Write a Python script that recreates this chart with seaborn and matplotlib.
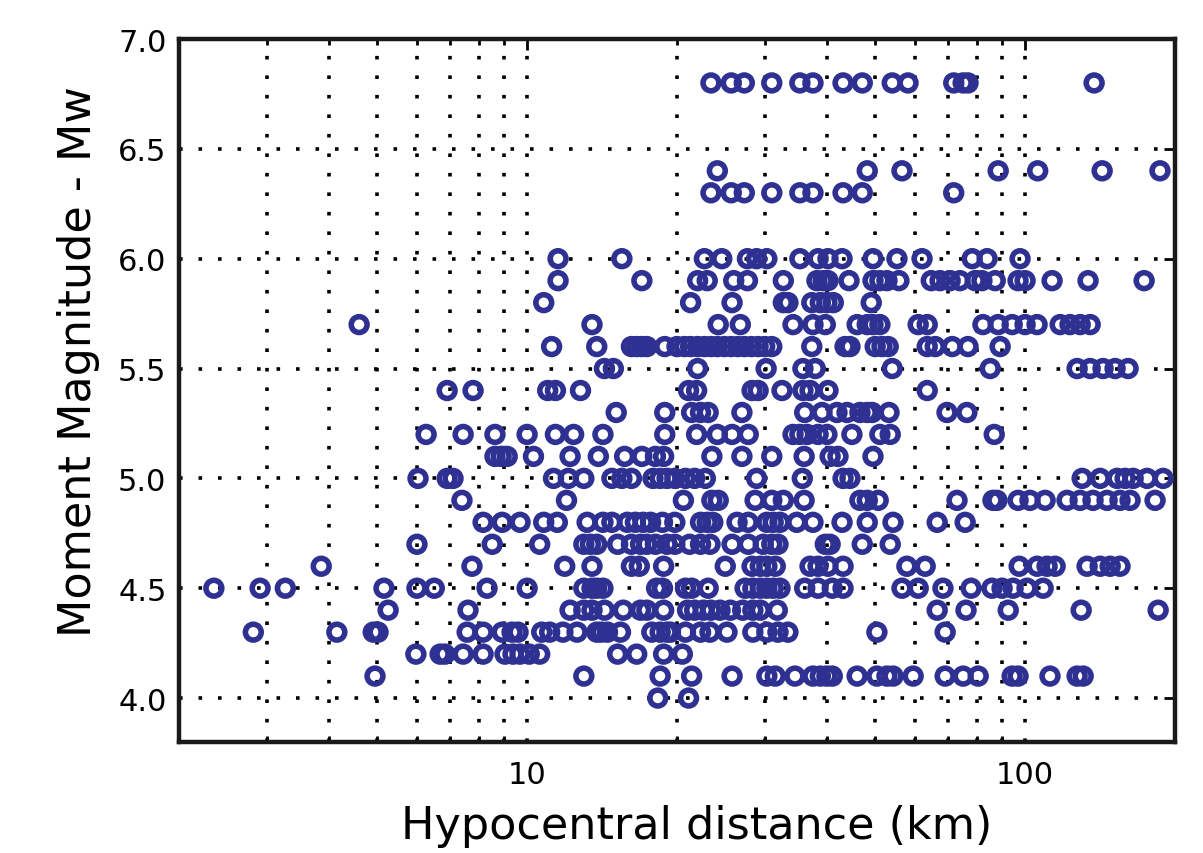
import numpy as np
import pandas as pd
import matplotlib
matplotlib.use("Agg")
import matplotlib.pyplot as plt
import seaborn as sns
from matplotlib.ticker import FixedLocator, FixedFormatter, NullFormatter

# ---- data: hypocentral distance (km) for each moment magnitude level ----
d_68 = [23.4, 25.7, 27.3, 31.0, 35.3, 37.5, 43.1, 47.1, 54.1, 58.2, 71.9, 75.1, 76.8, 137.6]
d_64 = [24.1, 48.2, 56.6, 88.3, 106, 142.8, 186.6]
d_63 = [23.4, 25.7, 27.3, 31.0, 35.3, 37.5, 43.1, 47.1, 71.9]
d_60 = [11.54, 15.5, 22.7, 24.6, 27.7, 28.9, 30.3, 35.3, 38.4, 40.2, 42.9, 49.5, 55.3, 62.1,
        78.3, 83.9, 97.7]
d_59 = [11.54, 17.0, 22.0, 23.0, 26.0, 27.7, 32.7, 38.2, 39.3, 40.2, 44.3, 49.5, 51.1, 52.8,
        55.8, 64.8, 67.5, 70.7, 74.0, 79.4, 81.9, 87.1, 96.8, 100, 113.3, 133.8, 173.4]
d_58 = [10.8, 21.3, 25.8, 32.7, 33.4, 37.3, 38.8, 40.0, 41.2, 49.1]
d_57 = [4.60, 13.5, 24.2, 26.8, 34.2, 37.5, 39.7, 46.0, 48.2, 49.5, 51.1, 61.0, 63.6, 82.3,
        88.3, 94.2, 100, 105.7, 117.6, 123.1, 129.0, 135.1]
d_56 = [11.2, 13.8, 16.2, 16.6, 17.0, 17.4, 18.9, 20.0, 20.7, 21.3, 22.0, 22.7, 23.4, 24.1,
        24.9, 25.7, 26.5, 27.3, 28.2, 29.1, 30.0, 31.0, 37.3, 43.5, 44.5, 50.0, 51.6, 53.1,
        63.6, 66.0, 71.4, 76.8, 89.1]
d_55 = [14.3, 14.9, 22.0, 30.2, 35.8, 37.9, 54.1, 85.1, 127.2, 135.1, 143.4, 151.6, 161.0]
d_54 = [6.91, 7.79, 11.0, 11.4, 12.8, 21.1, 21.9, 28.3, 29.1, 32.5, 35.8, 37.0, 40.2, 63.6]
d_53 = [15.1, 18.9, 21.4, 22.3, 23.1, 27.0, 36.1, 39.1, 41.9, 43.9, 46.6, 48.2, 49.3, 53.3,
        69.7, 76.4]
d_52 = [6.27, 7.44, 8.62, 10.0, 11.4, 12.4, 14.2, 18.9, 21.9, 24.1, 25.8, 27.8, 34.2, 35.3,
        36.5, 38.4, 40.0, 44.9, 51.1, 53.6, 86.7]
d_51 = [8.62, 8.87, 9.12, 10.3, 12.2, 13.9, 15.7, 17.0, 18.1, 18.8, 23.5, 27.0, 31.0, 36.0,
        40.6, 42.1, 49.5]
d_50 = [6.04, 6.91, 7.10, 11.3, 12.1, 13.0, 14.8, 15.5, 16.2, 17.9, 18.5, 19.1, 19.8, 20.8,
        21.7, 22.8, 28.9, 35.7, 43.1, 44.5, 130.2, 141.5, 153.0, 158.8, 164.8, 175.8, 189.3]
d_49 = [7.40, 12.0, 20.6, 23.5, 24.2, 28.7, 31.0, 32.7, 36.0, 46.6, 48.2, 50.7, 73.0, 86.2,
        87.8, 96.8, 102.3, 109.7, 121.4, 129.0, 136.9, 146.1, 155.1, 162.5, 182.4]
d_48 = [8.16, 8.91, 9.68, 10.8, 11.5, 13.2, 14.2, 14.8, 15.9, 16.5, 17.1, 17.7, 18.7, 19.8,
        22.3, 23.0, 23.6, 26.4, 27.8, 30.3, 31.2, 32.2, 34.8, 37.5, 42.9, 48.2, 54.3, 66.6, 75.8]
d_47 = [6.01, 8.51, 10.6, 13.0, 13.4, 13.8, 15.2, 16.2, 16.9, 17.4, 18.1, 19.1, 19.8, 21.2,
        22.3, 23.3, 25.8, 27.8, 29.8, 31.0, 31.9, 39.7, 40.6, 47.1, 53.6]
d_46 = [3.86, 7.75, 11.9, 13.5, 16.2, 16.8, 18.8, 25.0, 28.3, 29.4, 30.3, 31.5, 37.0, 38.4,
        40.2, 43.1, 57.9, 63.0, 97.3, 105.7, 110.7, 114.9, 133.2, 141.5, 148.2, 155.1]
d_45 = [2.35, 2.91, 3.27, 5.16, 6.01, 6.51, 8.31, 10.0, 13.0, 13.5, 13.8, 14.2, 18.2, 18.7,
        20.8, 21.4, 23.1, 27.4, 28.4, 29.4, 30.3, 31.2, 32.2, 36.1, 38.4, 41.0, 43.1, 56.6,
        61.0, 68.4, 77.9, 85.8, 89.9, 94.6, 100.9, 108.7]
d_44 = [5.26, 7.61, 12.2, 13.0, 13.5, 14.3, 15.6, 16.9, 17.4, 18.8, 21.0, 21.7, 22.6, 23.4,
        24.4, 25.6, 27.1, 28.4, 29.4, 31.8, 66.6, 76.1, 92.5, 129.6, 185.0]
d_43 = [2.82, 4.15, 4.91, 5.02, 7.58, 8.16, 8.91, 9.33, 9.59, 10.7, 11.1, 11.8, 12.6, 13.8,
        14.1, 14.5, 15.4, 17.8, 18.5, 19.1, 19.4, 20.8, 22.3, 23.3, 25.2, 28.4, 30.3, 31.9,
        33.4, 50.4, 69.1]
d_42 = [5.98, 6.69, 6.84, 7.44, 8.16, 9.03, 9.37, 9.68, 10.1, 10.6, 15.2, 16.6, 18.8, 20.5]
d_41 = [4.95, 13.0, 18.5, 21.4, 25.8, 30.3, 31.5, 34.5, 37.5, 38.8, 40.0, 41.0, 46.0, 50.4,
        52.8, 54.3, 59.6, 69.1, 75.1, 80.5, 94.2, 96.8, 112.2, 127.2, 130.8]
d_40 = [18.3, 21.1]

magnitudes = [6.8, 6.4, 6.3, 6.0, 5.9, 5.8, 5.7, 5.6, 5.5, 5.4, 5.3, 5.2, 5.1, 5.0,
              4.9, 4.8, 4.7, 4.6, 4.5, 4.4, 4.3, 4.2, 4.1, 4.0]
distance_rows = [d_68, d_64, d_63, d_60, d_59, d_58, d_57, d_56, d_55, d_54, d_53, d_52,
                 d_51, d_50, d_49, d_48, d_47, d_46, d_45, d_44, d_43, d_42, d_41, d_40]

x_major = [10, 100]
x_major_labels = ["10", "100"]
x_minor = [3, 4, 5, 6, 7, 8, 9, 20, 30, 40, 50, 60, 70, 80, 90, 200]
y_ticks = [4.0, 4.5, 5.0, 5.5, 6.0, 6.5, 7.0]

df = pd.concat(
    [pd.DataFrame({"distance": d, "magnitude": m}) for m, d in zip(magnitudes, distance_rows)],
    ignore_index=True,
)

COLOR = "#2E3192"

sns.set_style("white")
plt.rcParams["font.family"] = ["DejaVu Sans"]
plt.rcParams["text.color"] = "black"
plt.rcParams["axes.labelcolor"] = "black"

W, H = 1203, 854
fig = plt.figure(figsize=(W / 100, H / 100), dpi=100)
L, R, T, B = 179, 1175, 40, 743
ax = fig.add_axes([L / W, 1 - B / H, (R - L) / W, (B - T) / H])
ax.set_xscale("log")

sns.scatterplot(data=df, x="distance", y="magnitude", ax=ax, marker="o", s=130,
                facecolor="none", edgecolor=COLOR, linewidth=4.0, legend=False, zorder=3)

ax.set_xlim(2, 200)
ax.set_ylim(3.8, 7.0)

ax.xaxis.set_major_locator(FixedLocator(x_major))
ax.xaxis.set_major_formatter(FixedFormatter(x_major_labels))
ax.xaxis.set_minor_locator(FixedLocator(x_minor))
ax.xaxis.set_minor_formatter(NullFormatter())
ax.set_yticks(y_ticks)
ax.set_yticklabels([f"{v:.1f}" for v in y_ticks])

ax.set_axisbelow(True)
grid_kw = dict(color="black", linestyle=(0, (1, 4.4)), linewidth=2.6,
               dash_capstyle="butt")
ax.grid(True, which="major", axis="both", **grid_kw)
ax.grid(True, which="minor", axis="x", **grid_kw)

for sp in ax.spines.values():
    sp.set_linewidth(3.2)
    sp.set_color("#1a1a1a")

ax.tick_params(axis="both", which="major", direction="in", length=8, width=2,
               top=True, right=True, labelsize=22, pad=9, colors="black")
ax.tick_params(axis="x", which="major", pad=13)
ax.tick_params(axis="x", which="minor", direction="in", length=4, width=2,
               top=True, bottom=True, colors="black")

ax.set_xlabel("Hypocentral distance (km)", fontsize=32)
ax.set_ylabel("Moment Magnitude - Mw", fontsize=32)
ax.xaxis.set_label_coords(0.52, -0.088)
ax.yaxis.set_label_coords(-0.079, 0.542)

fig.savefig("out.png", dpi=100)
